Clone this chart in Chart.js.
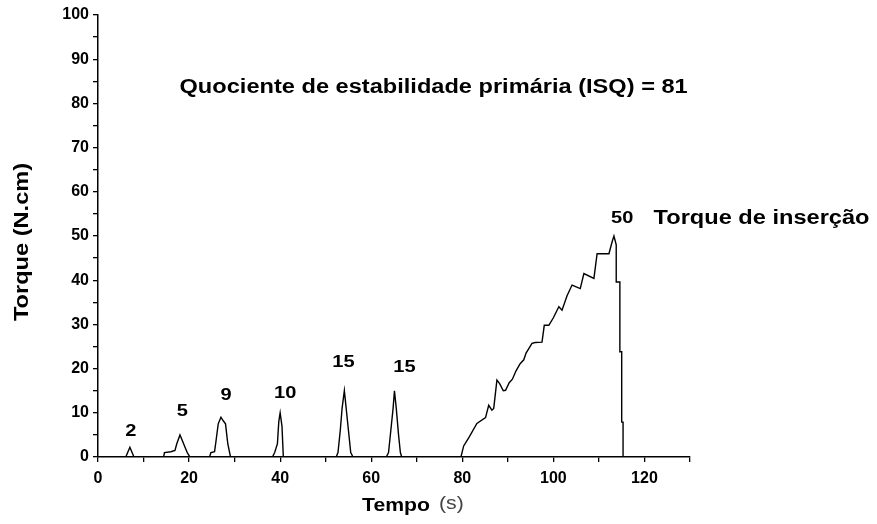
<!DOCTYPE html>
<html>
<head>
<meta charset="utf-8">
<title>Torque x Tempo</title>
<script src="https://cdn.jsdelivr.net/npm/chart.js@4.4.1/dist/chart.umd.min.js"></script>
<style>
  html, body { margin: 0; padding: 0; background: #fff; }
  #wrap { width: 877px; height: 524px; position: relative; }
</style>
</head>
<body>
<div id="wrap"><canvas id="chart" width="877" height="524"></canvas></div>
<script>
  // tempo (s) e torque (N.cm)
  const timeValues = [
    6.1, 7.0, 7.9,
    14.4, 14.6, 16.0, 16.9, 17.3, 18.0, 18.4, 19.2, 19.6, 20.2,
    24.5, 24.8, 25.6, 25.9, 26.4, 27.0, 27.5, 28.0, 28.5, 29.1,
    38.3, 38.8, 39.4, 39.7, 40.0, 40.4, 40.7,
    52.3, 52.7, 53.2, 53.6, 54.1, 54.5, 55.0, 55.5, 56.0,
    63.3, 63.8, 64.3, 64.8, 65.1, 65.5, 66.0, 66.4, 66.7,
    79.7, 80.3, 81.5, 83.2, 85.1, 85.8, 86.5, 86.9, 87.6, 88.2, 89.0, 89.5,
    90.3, 91.0, 91.8, 92.7, 93.5, 94.0, 95.3, 96.0, 97.5, 98.0, 99.0, 100.0,
    101.2, 101.9, 103.0, 104.1, 105.9, 106.7, 108.9, 109.6, 112.2, 112.9,
    113.3, 113.8, 113.8, 114.6, 114.6, 115.0, 115.0, 115.3, 115.3
  ];
  const torqueValues = [
    0, 2.2, 0,
    0, 1, 1.2, 1.5, 3, 5, 4, 2, 1, 0,
    0, 1, 1.2, 3.5, 7.5, 9, 8.2, 7.5, 3, 0,
    0, 1, 3, 8, 10, 7, 0,
    0, 1, 6, 11, 15, 11, 6, 1, 0,
    0, 1, 6, 11, 15, 11, 5, 1, 0,
    0, 2.5, 4.5, 7.6, 8.9, 11.7, 10.6, 11, 17.4, 16.6, 15, 15.1,
    16.8, 17.6, 19.5, 21.1, 22.0, 23.5, 25.7, 25.9, 26, 29.8, 29.8, 31.5,
    34, 33.2, 36.5, 38.9, 38.1, 41.5, 40.4, 46, 46, 48.7,
    50, 48, 39.6, 39.6, 23.8, 23.8, 7.9, 7.9, 0
  ];

  // rótulos dos picos
  const peakLabels = ['2', '5', '9', '10', '15', '15', '50'];
  const peakLabelTime = [7.2, 18.5, 28.1, 41.1, 53.9, 67.3, 115.1];
  const peakLabelTorque = [5.8, 10.4, 14.0, 14.4, 21.5, 20.4, 54.0];

  const xTickLabels = [0, 20, 40, 60, 80, 100, 120];
  const yTickLabels = [0, 10, 20, 30, 40, 50, 60, 70, 80, 90, 100];

  const titleText = 'Quociente de estabilidade primária (ISQ) = 81';
  const noteText = 'Torque de inserção';

  const STRETCH = 1.18;

  // texto um pouco mais largo, como no original
  function drawWide(ctx, text, x, y, font, align, color) {
    ctx.save();
    ctx.font = font;
    ctx.fillStyle = color || '#000';
    ctx.textBaseline = 'middle';
    const w = ctx.measureText(text).width * STRETCH;
    let left = x;
    if (align === 'center') left = x - w / 2;
    if (align === 'right') left = x - w;
    ctx.translate(left, y);
    ctx.scale(STRETCH, 1);
    ctx.textAlign = 'left';
    ctx.fillText(text, 0, 0);
    ctx.restore();
  }

  const textPlugin = {
    id: 'texts',
    afterDraw(chart) {
      const ctx = chart.ctx;
      const xs = chart.scales.x;
      const ys = chart.scales.y;

      peakLabels.forEach((t, i) => {
        drawWide(ctx, t, xs.getPixelForValue(peakLabelTime[i]), ys.getPixelForValue(peakLabelTorque[i]),
          'bold 17px "Liberation Sans", Arial, sans-serif', 'center');
      });

      drawWide(ctx, titleText, xs.getPixelForValue(73.7), ys.getPixelForValue(83.7),
        'bold 20px "Liberation Sans", Arial, sans-serif', 'center');
      drawWide(ctx, noteText, xs.getPixelForValue(122), ys.getPixelForValue(54),
        'bold 20px "Liberation Sans", Arial, sans-serif', 'left');

      // eixo x
      drawWide(ctx, 'Tempo', 362, 506, 'bold 18px "Liberation Sans", Arial, sans-serif', 'left');
      drawWide(ctx, '(s)', 439, 504, '18px "Liberation Sans", Arial, sans-serif', 'left', '#444');

      // eixo y
      ctx.save();
      ctx.translate(22, 242);
      ctx.rotate(-Math.PI / 2);
      drawWide(ctx, 'Torque (N.cm)', 0, 0, 'bold 20px "Liberation Sans", Arial, sans-serif', 'center');
      ctx.restore();
    }
  };

  const points = timeValues.map((t, i) => ({ x: t, y: torqueValues[i] }));

  new Chart(document.getElementById('chart').getContext('2d'), {
    type: 'line',
    data: {
      datasets: [{
        data: points,
        borderColor: '#000',
        borderWidth: 1.4,
        pointRadius: 0,
        tension: 0,
        fill: false
      }]
    },
    options: {
      responsive: false,
      animation: false,
      layout: { padding: { top: 15, right: 187, left: 0, bottom: 0 } },
      plugins: {
        legend: { display: false },
        tooltip: { enabled: false }
      },
      scales: {
        x: {
          type: 'linear',
          min: 0,
          max: 130,
          afterFit(scale) { scale.height = 67; },
          border: { display: true, color: '#000', width: 1.5 },
          grid: { drawOnChartArea: false, drawTicks: true, tickLength: 5, color: '#000', lineWidth: 1.3 },
          ticks: {
            stepSize: 10,
            padding: 7,
            maxRotation: 0,
            autoSkip: false,
            color: '#000',
            font: { family: '"Liberation Sans", Arial, sans-serif', size: 16, weight: 'bold' },
            callback: v => xTickLabels.includes(v) ? String(v) : ''
          }
        },
        y: {
          min: 0,
          max: 100,
          afterFit(scale) { scale.width = 98; },
          border: { display: true, color: '#000', width: 1.5 },
          grid: { drawOnChartArea: false, drawTicks: true, tickLength: 5, color: '#000', lineWidth: 1.3 },
          ticks: {
            stepSize: 5,
            padding: 4,
            autoSkip: false,
            color: '#000',
            font: { family: '"Liberation Sans", Arial, sans-serif', size: 16, weight: 'bold' },
            callback: v => yTickLabels.includes(v) ? String(v) : ''
          }
        }
      }
    },
    plugins: [textPlugin]
  });
</script>
</body>
</html>
